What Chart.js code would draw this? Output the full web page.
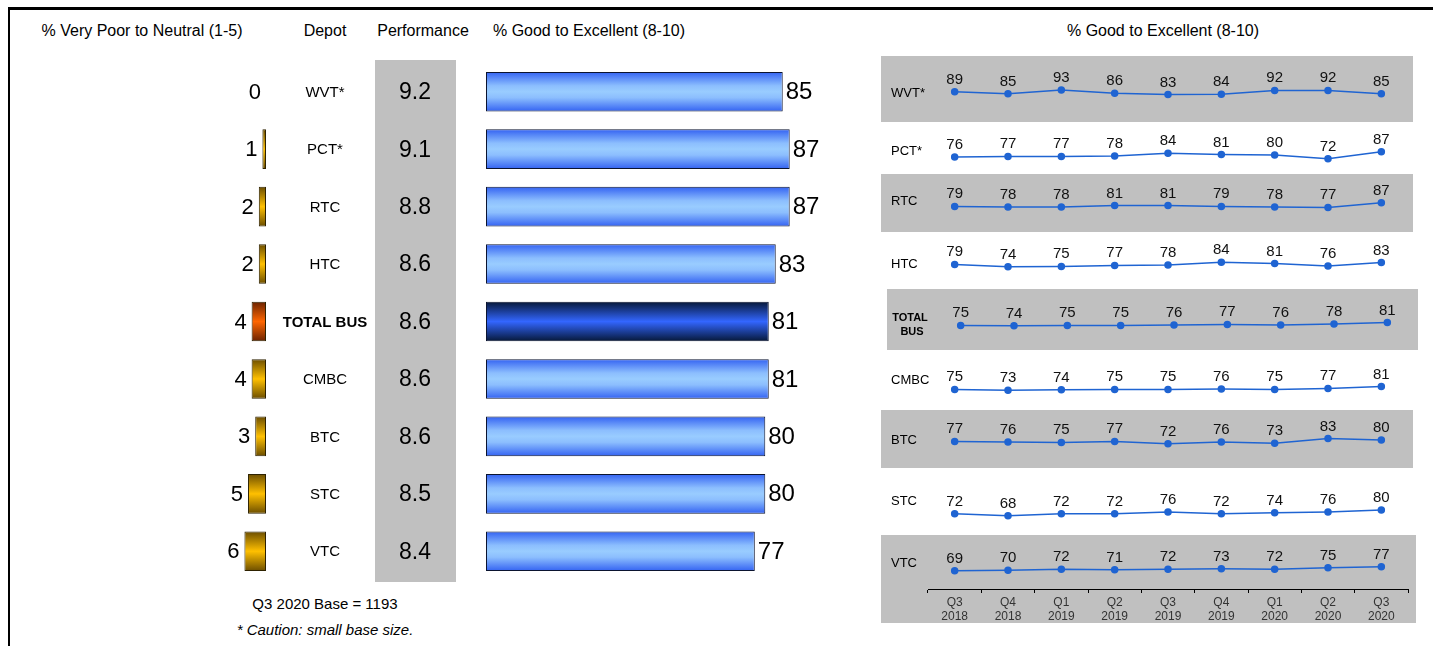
<!DOCTYPE html>
<html>
<head>
<meta charset="utf-8">
<script src="https://cdn.jsdelivr.net/npm/chart.js@4.4.0/dist/chart.umd.min.js"></script>
<style>
  body { margin: 0; width: 1433px; height: 646px; position: relative; overflow: hidden; background: #fff;
         font-family: Arial, "Liberation Sans", sans-serif; color: #000; }
  canvas, .band, .txt { position: absolute; }
  .frame { position: absolute; left: 8px; top: 7px; right: -10px; bottom: -10px;
           border-top: 3px solid #000; border-left: 2px solid #000; }
  .band { background: #c0c0c0; }
  .txt { font-size: 16px; white-space: nowrap; transform: translateX(-50%); line-height: 18px; }
</style>
</head>
<body>
<div class="frame"></div>

<div class="txt" style="left:142px; top:22px">% Very Poor to Neutral (1-5)</div>
<div class="txt" style="left:325px; top:22px">Depot</div>
<div class="txt" style="left:423px; top:22px">Performance</div>
<div class="txt" style="left:589px; top:22px">% Good to Excellent (8-10)</div>
<div class="txt" style="left:1163px; top:22px">% Good to Excellent (8-10)</div>
<div class="txt" style="left:325px; top:595px; font-size:15px">Q3 2020 Base = 1193</div>
<div class="txt" style="left:325px; top:621px; font-size:15px; font-style:italic">* Caution: small base size.</div>

<canvas id="poor" width="470" height="646" style="left:0; top:0"></canvas>
<canvas id="good" width="400" height="646" style="left:470px; top:0"></canvas>

<script>
// rows, top to bottom
const depots = ['WVT*', 'PCT*', 'RTC', 'HTC', 'TOTAL BUS', 'CMBC', 'BTC', 'STC', 'VTC'];
const poorPct = [0, 1, 2, 2, 4, 4, 3, 5, 6];
const performance = ['9.2', '9.1', '8.8', '8.6', '8.6', '8.6', '8.6', '8.5', '8.4'];
const goodPct = [85, 87, 87, 83, 81, 81, 80, 80, 77];

// quarterly trend of % good to excellent
const quarters = [['Q3', '2018'], ['Q4', '2018'], ['Q1', '2019'], ['Q2', '2019'], ['Q3', '2019'],
                  ['Q4', '2019'], ['Q1', '2020'], ['Q2', '2020'], ['Q3', '2020']];
const trendWVT = [89, 85, 93, 86, 83, 84, 92, 92, 85];
const trendPCT = [76, 77, 77, 78, 84, 81, 80, 72, 87];
const trendRTC = [79, 78, 78, 81, 81, 79, 78, 77, 87];
const trendHTC = [79, 74, 75, 77, 78, 84, 81, 76, 83];
const trendTotal = [75, 74, 75, 75, 76, 77, 76, 78, 81];
const trendCMBC = [75, 73, 74, 75, 75, 76, 75, 77, 81];
const trendBTC = [77, 76, 75, 77, 72, 76, 73, 83, 80];
const trendSTC = [72, 68, 72, 72, 76, 72, 74, 76, 80];
const trendVTC = [69, 70, 72, 71, 72, 73, 72, 75, 77];
const trends = [trendWVT, trendPCT, trendRTC, trendHTC, trendTotal, trendCMBC, trendBTC, trendSTC, trendVTC];

const TOTAL_ROW = depots.indexOf('TOTAL BUS');
const FONT = 'Arial, "Liberation Sans", sans-serif';
const LINE_BLUE = '#1f64d2';

// strip placement for the trend panel (canvas left/top and depot label centre, page px)
const stripLefts = [870, 870, 870, 870, 876, 870, 870, 870, 870];
const stripTops = [68, 127, 178, 236, 295, 359, 412, 482, 536];
const stripLabelY = [93, 151, 201, 264, 325, 380, 440, 501, 563];
const bands = [
  { x: 881, y: 56, w: 532, h: 66 },
  { x: 881, y: 174, w: 532, h: 58 },
  { x: 887, y: 289, w: 531, h: 61 },
  { x: 881, y: 410, w: 532, h: 58 },
  { x: 881, y: 535, w: 535, h: 88 }
];
const STRIP_H = 70;
const AXIS_H = 34;
const Y_MAX = 130;
const PX_PER_POINT = 0.54;

const BAR_PCT = 0.69;
const ROW_PADDING = { top: 63, bottom: 66 };

function barGradient(context, edge, mid) {
  const chart = context.chart;
  const yScale = chart.scales.y;
  if (!chart.chartArea || !yScale) return mid;
  const centre = yScale.getPixelForValue(context.dataIndex);
  const half = yScale.height / depots.length * BAR_PCT / 2;
  const g = chart.ctx.createLinearGradient(0, centre - half, 0, centre + half);
  g.addColorStop(0, edge);
  g.addColorStop(0.5, mid);
  g.addColorStop(1, edge);
  return g;
}

function goodGradient(context) {
  const chart = context.chart;
  const yScale = chart.scales.y;
  if (!chart.chartArea || !yScale) return '#99ccff';
  const centre = yScale.getPixelForValue(context.dataIndex);
  const half = yScale.height / depots.length * BAR_PCT / 2;
  const g = chart.ctx.createLinearGradient(0, centre - half, 0, centre + half);
  if (context.dataIndex === TOTAL_ROW) {
    g.addColorStop(0, '#061838');
    g.addColorStop(0.5, '#3366ff');
    g.addColorStop(1, '#061838');
  } else {
    g.addColorStop(0, '#3362f2');
    g.addColorStop(0.35, '#8cbefe');
    g.addColorStop(0.5, '#99ccff');
    g.addColorStop(0.65, '#8cbefe');
    g.addColorStop(1, '#3362f2');
  }
  return g;
}

const baseOptions = {
  responsive: false,
  animation: false,
  devicePixelRatio: 1,
  events: [],
  indexAxis: 'y',
  plugins: { legend: { display: false }, tooltip: { enabled: false } }
};

// depot names, performance column and the left bar values
const poorText = {
  id: 'poorText',
  beforeDatasetsDraw(chart) {
    const { ctx, scales: { y } } = chart;
    ctx.save();
    ctx.fillStyle = '#c0c0c0';
    ctx.fillRect(375, y.top - 3, 81, y.bottom - y.top + 5);
    ctx.restore();
  },
  afterDatasetsDraw(chart) {
    const { ctx, scales: { y } } = chart;
    const bars = chart.getDatasetMeta(0).data;
    ctx.save();
    ctx.fillStyle = '#000';
    ctx.textBaseline = 'middle';
    depots.forEach((name, i) => {
      const cy = y.getPixelForValue(i);
      ctx.textAlign = 'center';
      ctx.font = (i === TOTAL_ROW ? 'bold 15px ' : '15px ') + FONT;
      ctx.fillText(name, 325, cy + 1);
      ctx.font = '23px ' + FONT;
      ctx.fillText(performance[i], 415, cy + 1);
      ctx.textAlign = 'right';
      ctx.font = '22px ' + FONT;
      ctx.fillText(String(poorPct[i]), bars[i].x - 5, cy + 1);
    });
    ctx.restore();
  }
};

new Chart(document.getElementById('poor'), {
  type: 'bar',
  data: {
    labels: depots,
    datasets: [{
      data: poorPct,
      backgroundColor: (c) => c.dataIndex === TOTAL_ROW
        ? barGradient(c, '#6a2200', '#ff6600')
        : barGradient(c, '#6b4d00', '#ffc000'),
      borderColor: '#2e2200',
      borderWidth: 1,
      borderSkipped: false,
      barPercentage: BAR_PCT,
      categoryPercentage: 1
    }]
  },
  options: {
    ...baseOptions,
    layout: { padding: { left: 0, right: 204, ...ROW_PADDING } },
    scales: {
      x: { display: false, reverse: true, min: 0, max: 74 },
      y: { display: false }
    }
  },
  plugins: [poorText]
});

const goodText = {
  id: 'goodText',
  afterDatasetsDraw(chart) {
    const { ctx } = chart;
    ctx.save();
    ctx.fillStyle = '#000';
    ctx.textBaseline = 'middle';
    ctx.textAlign = 'left';
    ctx.font = '24px ' + FONT;
    chart.getDatasetMeta(0).data.forEach((bar, i) => {
      ctx.fillText(String(goodPct[i]), bar.x + 3, bar.y + 1);
    });
    ctx.restore();
  }
};

new Chart(document.getElementById('good'), {
  type: 'bar',
  data: {
    labels: depots,
    datasets: [{
      data: goodPct,
      backgroundColor: goodGradient,
      borderColor: '#0b1430',
      borderWidth: 1,
      borderSkipped: false,
      barPercentage: BAR_PCT,
      categoryPercentage: 1
    }]
  },
  options: {
    ...baseOptions,
    layout: { padding: { left: 16, right: 0, ...ROW_PADDING } },
    scales: {
      x: { display: false, min: 0, max: 110 },
      y: { display: false }
    }
  },
  plugins: [goodText]
});

// grey bands behind alternate trend strips
bands.forEach(b => {
  const d = document.createElement('div');
  d.className = 'band';
  Object.assign(d.style, { left: b.x + 'px', top: b.y + 'px', width: b.w + 'px', height: b.h + 'px' });
  document.body.appendChild(d);
});

const pointValues = {
  id: 'pointValues',
  afterDatasetsDraw(chart) {
    const { ctx } = chart;
    const values = chart.data.datasets[0].data;
    ctx.save();
    ctx.fillStyle = '#111';
    ctx.font = '15px ' + FONT;
    ctx.textAlign = 'center';
    ctx.textBaseline = 'alphabetic';
    chart.getDatasetMeta(0).data.forEach((pt, i) => {
      ctx.fillText(String(values[i]), pt.x, pt.y - 8);
    });
    ctx.restore();
  }
};

const stripName = {
  id: 'stripName',
  afterDraw(chart, args, opts) {
    const { ctx } = chart;
    ctx.save();
    ctx.fillStyle = '#000';
    ctx.textBaseline = 'middle';
    if (opts.name === 'TOTAL BUS') {
      ctx.font = 'bold 11px ' + FONT;
      ctx.textAlign = 'center';
      ctx.fillText('TOTAL', 34, opts.y - 7);
      ctx.fillText('BUS', 36, opts.y + 7);
    } else {
      ctx.font = '13px ' + FONT;
      ctx.textAlign = 'left';
      ctx.fillText(opts.name, 21, opts.y);
    }
    ctx.restore();
  }
};

trends.forEach((series, i) => {
  const last = i === trends.length - 1;
  const h = last ? 53 + AXIS_H : STRIP_H;
  const areaH = h - (last ? AXIS_H : 0);
  const cv = document.createElement('canvas');
  cv.width = 563;
  cv.height = h;
  cv.style.left = stripLefts[i] + 'px';
  cv.style.top = stripTops[i] + 'px';
  document.body.appendChild(cv);

  const xAxis = {
    display: last,
    offset: true,
    grid: { offset: true, drawOnChartArea: false, tickLength: 4, color: '#000' },
    border: { color: '#000', width: 1 },
    ticks: { color: '#333', font: { size: 12, family: FONT }, maxRotation: 0, autoSkip: false, padding: 2 }
  };
  if (last) xAxis.afterFit = (scale) => { scale.height = AXIS_H; };

  new Chart(cv, {
    type: 'line',
    data: {
      labels: quarters,
      datasets: [{
        data: series,
        borderColor: LINE_BLUE,
        backgroundColor: LINE_BLUE,
        borderWidth: 1.5,
        pointRadius: 3,
        pointHoverRadius: 3,
        tension: 0,
        clip: false
      }]
    },
    options: {
      responsive: false,
      animation: false,
      devicePixelRatio: 1,
      events: [],
      layout: { padding: { left: 58, right: 25, top: 0, bottom: 0 } },
      plugins: {
        legend: { display: false },
        tooltip: { enabled: false },
        stripName: { name: depots[i], y: stripLabelY[i] - stripTops[i] }
      },
      scales: {
        x: xAxis,
        y: { display: false, min: Y_MAX - areaH / PX_PER_POINT, max: Y_MAX }
      }
    },
    plugins: [pointValues, stripName]
  });
});
</script>
</body>
</html>
